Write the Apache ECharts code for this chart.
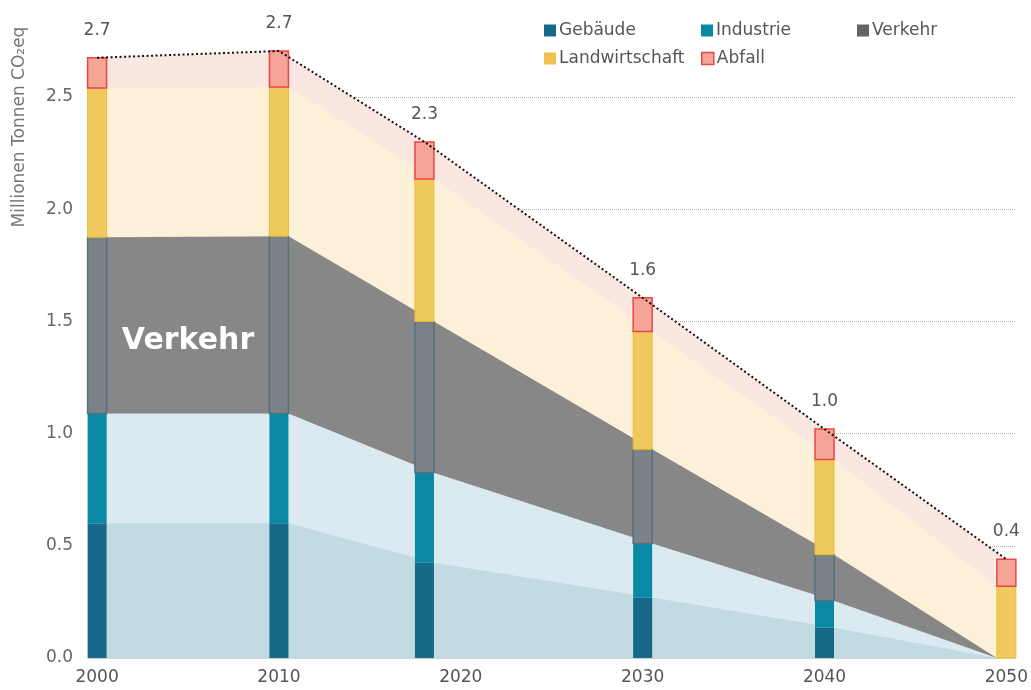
<!DOCTYPE html>
<html>
<head>
<meta charset="utf-8">
<script src="https://cdn.jsdelivr.net/npm/echarts@6/dist/echarts.min.js"></script>
<style>
html,body{margin:0;padding:0;background:#fff;}
#c{width:1031px;height:690px;}
</style>
</head>
<body>
<div id="c"></div>
<script>
// ---- data ----
var years = [2000, 2010, 2018, 2030, 2040, 2050];
var gebaeude = [0.60, 0.60, 0.425, 0.27, 0.135, 0];
var industrie = [0.49, 0.49, 0.40, 0.24, 0.12, 0];
var verkehr = [0.785, 0.79, 0.675, 0.42, 0.205, 0];
var landwirtschaft = [0.665, 0.665, 0.635, 0.525, 0.425, 0.32];
var abfall = [0.135, 0.16, 0.165, 0.15, 0.135, 0.12];
var seriesNames = ['Gebäude', 'Industrie', 'Verkehr', 'Landwirtschaft', 'Abfall'];
var yTicks = [0, 0.5, 1.0, 1.5, 2.0, 2.5];
var xLabelYears = [2000, 2010, 2020, 2030, 2040, 2050];
var yAxisTitle = 'Millionen Tonnen CO\u2082eq';
var bandLabel = 'Verkehr';
var bandLabelAt = [2005, 1.41];

// ---- styles ----
var FONT = '"DejaVu Sans", Verdana, sans-serif';
var BAR_W = 19;
var barColors = ['#17698a', '#0a89a6', '#7b8288', '#efc85e', '#f5a595'];
var barBorders = ['#17698a', '#0a89a6', '#56707c', '#efbd30', '#ec4448'];
var barBorderW = [0, 0, 1.5, 1, 1.5];
var areaColors = ['#c2dae2', '#dbeaf0', '#878787', '#fdf0d9', '#fbe7e2'];
var legendIcon = ['#17698a', '#0a89a6', '#636363', '#efc24f', '#f5a595'];

var values = [gebaeude, industrie, verkehr, landwirtschaft, abfall];
var lower = [], upper = [];
values.forEach(function (arr, k) {
  lower[k] = arr.map(function (v, i) { return k === 0 ? 0 : upper[k - 1][i]; });
  upper[k] = arr.map(function (v, i) { return lower[k][i] + v; });
});
var totals = upper[values.length - 1];
var LAST = years.length - 1;
var TOP = values.length - 1;

var series = [];
// background bands, filled from each cumulative top down to zero, top layer first.
// Inner bands attach to the right edge of each bar; the outer band follows the total line.
var layerOrder = [];
for (var k = TOP; k >= 0; k--) layerOrder.push([k]);
series.push({
  name: 'Bänder',
  type: 'custom',
  data: layerOrder,
  silent: true,
  z: 1,
  clip: false,
  renderItem: function (params, api) {
    var k = api.value(0);
    var pts = years.map(function (y, i) {
      var p = api.coord([y, upper[k][i]]);
      var dx = (k === TOP) ? 0 : (i === LAST ? -BAR_W / 2 : BAR_W / 2);
      return [p[0] + dx, p[1]];
    });
    var bR = api.coord([years[LAST], 0]);
    var bL = api.coord([years[0], 0]);
    pts.push([bR[0] - BAR_W / 2, bR[1]]);
    pts.push([bL[0] + BAR_W / 2, bL[1]]);
    return { type: 'polygon', shape: { points: pts }, style: { fill: areaColors[k] } };
  }
});
// stacked bars as custom rects
values.forEach(function (arr, k) {
  series.push({
    name: seriesNames[k],
    type: 'custom',
    data: years.map(function (y, i) { return [y, lower[k][i], upper[k][i]]; }),
    encode: { x: 0, y: [1, 2] },
    z: 10 + k,
    clip: false,
    itemStyle: { color: barColors[k] },
    renderItem: (function (kk) {
      return function (params, api) {
        var x = api.value(0), lo = api.value(1), hi = api.value(2);
        if (hi - lo <= 1e-9) return null;
        var p0 = api.coord([x, lo]), p1 = api.coord([x, hi]);
        return {
          type: 'rect',
          shape: { x: p0[0] - BAR_W / 2, y: p1[1], width: BAR_W, height: p0[1] - p1[1] },
          style: { fill: barColors[kk], stroke: barBorderW[kk] ? barBorders[kk] : null, lineWidth: barBorderW[kk] }
        };
      };
    })(k)
  });
});
// dotted total line with labels
series.push({
  name: 'Summe',
  type: 'line',
  data: years.map(function (y, i) { return [y, totals[i]]; }),
  symbol: 'circle',
  symbolSize: 0,
  lineStyle: { color: '#111', width: 2, type: [2, 2.5] },
  label: { show: true, position: 'top', distance: 19, color: '#555', fontFamily: FONT, fontSize: 17,
           formatter: function (p) { return p.value[1].toFixed(1); } },
  markPoint: {
    symbol: 'circle', symbolSize: 0, silent: true,
    data: [{ coord: bandLabelAt }],
    label: { show: true, position: 'inside', formatter: bandLabel, color: '#fff',
             fontFamily: FONT, fontWeight: 'bold', fontSize: 30 }
  },
  z: 21,
  clip: false
});

var legendPos = [[544, 22], [701, 22], [857, 22], [544, 50], [701, 50]];
var legends = seriesNames.map(function (n, k) {
  return {
    data: [{ name: n, icon: 'rect', itemStyle: { color: legendIcon[k], borderColor: k === 4 ? '#ec4448' : legendIcon[k], borderWidth: k === 4 ? 1.5 : 0 } }],
    left: legendPos[k][0], top: legendPos[k][1],
    padding: 0, itemWidth: 12, itemHeight: 12, itemGap: 4,
    selectedMode: false,
    textStyle: { color: '#555', fontFamily: FONT, fontSize: 17, padding: [0, 0, 0, -2] }
  };
});

var chart = echarts.init(document.getElementById('c'), null, { renderer: 'canvas' });
chart.setOption({
  animation: false,
  backgroundColor: '#fff',
  grid: { left: 88, right: 15, top: 97, bottom: 32, containLabel: false },
  legend: legends,
  xAxis: {
    type: 'value', min: 1999.5, max: 2050.5, interval: 0.5,
    axisLine: { show: true, lineStyle: { color: '#d0d0d0', width: 1 } },
    axisTick: { show: false },
    splitLine: { show: false },
    axisLabel: {
      color: '#555', fontFamily: FONT, fontSize: 17, margin: 11,
      formatter: function (v) {
        var r = Math.round(v);
        return (Math.abs(v - r) < 1e-6 && xLabelYears.indexOf(r) >= 0) ? String(r) : '';
      }
    }
  },
  yAxis: {
    type: 'value', min: yTicks[0], max: yTicks[yTicks.length - 1], interval: 0.5,
    axisLine: { show: false }, axisTick: { show: false },
    splitLine: { show: true, lineStyle: { color: '#b0b0b0', type: 'dotted', width: 1 } },
    axisLabel: { color: '#666', fontFamily: FONT, fontSize: 17, margin: 15,
                 formatter: function (v) { return v.toFixed(1); } }
  },
  graphic: [{
    type: 'text', x: 20, y: 127, rotation: Math.PI / 2, silent: true,
    style: { text: yAxisTitle, fill: '#777', font: '17px ' + FONT, align: 'center', verticalAlign: 'middle' }
  }],
  series: series
});
</script>
</body>
</html>
